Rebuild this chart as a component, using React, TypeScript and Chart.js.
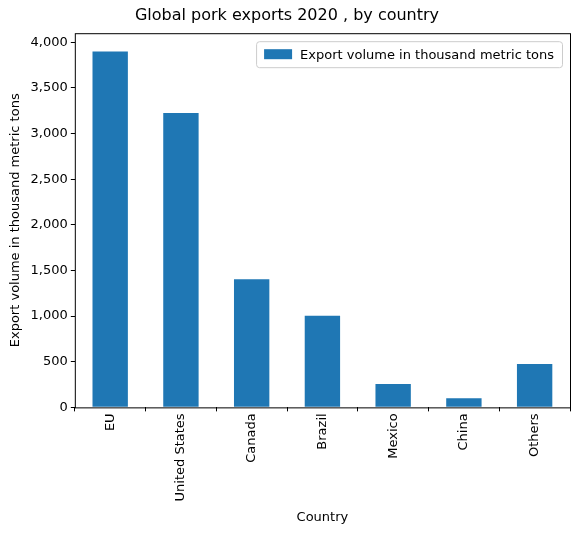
import { useEffect, useRef } from "react"
import { Chart, type ChartConfiguration, registerables } from "chart.js"

Chart.register(...registerables)

const countries = ["EU", "United States", "Canada", "Brazil", "Mexico", "China", "Others"]
const exportVolume = [3900, 3225, 1405, 1005, 255, 100, 475]
const yTicks = [0, 500, 1000, 1500, 2000, 2500, 3000, 3500, 4000]
const seriesLabel = "Export volume in thousand metric tons"
const barColor = "#1f77b4"

// frame around the plot + legend drawn inside the axes, matplotlib style
const framePlugin = {
  id: "frame",
  afterDraw(chart: Chart) {
    const { ctx, chartArea: a } = chart
    ctx.save()
    ctx.strokeStyle = "#000"
    ctx.lineWidth = 1
    ctx.strokeRect(a.left + 0.5, a.top + 0.5, a.right - a.left, a.bottom - a.top)

    ctx.font = "13px 'DejaVu Sans'"
    const tw = ctx.measureText(seriesLabel).width
    const w = tw + 52
    const h = 26
    const x = a.right - w - 8
    const y = a.top + 8
    ctx.fillStyle = "rgba(255,255,255,0.8)"
    ctx.strokeStyle = "#cccccc"
    ctx.beginPath()
    ctx.roundRect(x + 0.5, y + 0.5, w, h, 3)
    ctx.fill()
    ctx.stroke()
    ctx.fillStyle = barColor
    ctx.fillRect(x + 8, y + 8, 28, 10)
    ctx.fillStyle = "#000"
    ctx.textBaseline = "middle"
    ctx.fillText(seriesLabel, x + 44, y + h / 2 + 1)
    ctx.restore()
  },
}

export default function App() {
  const chartRef = useRef<HTMLCanvasElement>(null)
  const chartInstance = useRef<Chart | null>(null)

  useEffect(() => {
    document.body.style.margin = "0"
    if (!chartRef.current) return
    const ctx = chartRef.current.getContext("2d")
    if (!ctx) return
    if (chartInstance.current) chartInstance.current.destroy()

    const font = { family: "'DejaVu Sans'", size: 13 }
    const tickGrid = { drawOnChartArea: false, tickLength: 4, color: "#000" }

    const config: ChartConfiguration = {
      type: "bar",
      data: {
        labels: countries,
        datasets: [
          {
            label: seriesLabel,
            data: exportVolume,
            backgroundColor: barColor,
            barPercentage: 0.5,
            categoryPercentage: 1,
          },
        ],
      },
      options: {
        responsive: false,
        animation: false,
        layout: { padding: { left: 4, right: 10, top: 0, bottom: 6 } },
        plugins: {
          legend: { display: false },
          tooltip: { enabled: false },
          title: {
            display: true,
            text: "Global pork exports 2020 , by country",
            color: "#000",
            font: { family: "'DejaVu Sans'", size: 16, weight: "normal" },
            padding: { top: 6, bottom: 8 },
          },
        },
        scales: {
          x: {
            grid: tickGrid,
            border: { display: false },
            ticks: { color: "#000", font, maxRotation: 90, minRotation: 90, padding: 2 },
            title: { display: true, text: "Country", color: "#000", font, padding: { top: 6 } },
          },
          y: {
            min: 0,
            max: 4100,
            grid: tickGrid,
            border: { display: false },
            afterBuildTicks: (axis) => {
              axis.ticks = yTicks.map((value) => ({ value }))
            },
            ticks: { color: "#000", font, autoSkip: false, padding: 3 },
            title: {
              display: true,
              text: "Export volume in thousand metric tons",
              color: "#000",
              font,
            },
          },
        },
      },
      plugins: [framePlugin],
    }

    chartInstance.current = new Chart(ctx, config)
    return () => {
      if (chartInstance.current) chartInstance.current.destroy()
    }
  }, [])

  return (
    <div style={{ width: 580, height: 535 }}>
      <canvas ref={chartRef} width={580} height={535} />
    </div>
  )
}
